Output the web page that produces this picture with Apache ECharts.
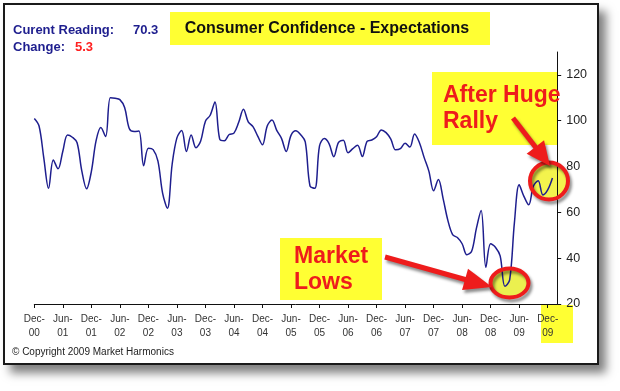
<!DOCTYPE html>
<html>
<head>
<meta charset="utf-8">
<script src="https://cdn.jsdelivr.net/npm/echarts@6/dist/echarts.min.js"></script>
<style>
  html, body { margin: 0; padding: 0; background: #fff; }
  #frame { position: absolute; left: 3px; top: 3px; width: 596px; height: 362px; box-sizing: border-box;
           border: 2px solid #1a1a1a; background: #fff; box-shadow: 7px 8px 9px rgba(0,0,0,0.5); }
  #chart { position: absolute; left: 0; top: 0; width: 620px; height: 391px; }
</style>
</head>
<body>
<div id="frame"></div>
<div id="chart"></div>
<script>
// Monthly Consumer Confidence - Expectations index
const expectations = [
  101, 97.7, 83.7, 70.5, 82.9, 79, 86.7, 93.8, 92.8, 90.4,
  78, 70.3, 77.8, 91.3, 97, 93.1, 110, 109.8, 109.2, 105.8,
  96.5, 95.3, 95.5, 80.4, 88, 87.4, 82.5, 68.3, 61.8, 81,
  92.5, 95.7, 86.6, 93.8, 88.2, 91.2, 99.8, 102.4, 108.2, 92,
  91.3, 94, 94.6, 99.3, 105, 99.5, 97.4, 93.3, 89.5, 97.7,
  100.3, 95.8, 92.3, 86.6, 93.6, 95.6, 94, 90.8, 71.5, 70.5,
  89, 92.2, 90, 84.3, 90.5, 91.5, 86, 87.8, 89.3, 84.4,
  91, 91.6, 93, 96, 94.8, 92, 87.3, 87.8, 90.2, 88.5,
  94.2, 90.5, 84, 78, 69.4, 74.3, 66, 56.5, 50.3, 49,
  46.3, 41.5, 43, 53, 60.8, 36, 46.3, 44.8, 41, 27.7,
  30.5, 55.5, 72, 67, 63.3, 71.5, 73.8, 67.6, 69.8, 75
];
// Tick labels, one every 6 months
const xTickLabels = ['Dec-\n00','Jun-\n01','Dec-\n01','Jun-\n02','Dec-\n02','Jun-\n03','Dec-\n03','Jun-\n04',
  'Dec-\n04','Jun-\n05','Dec-\n05','Jun-\n06','Dec-\n06','Jun-\n07','Dec-\n07','Jun-\n08','Dec-\n08','Jun-\n09','Dec-\n09'];
const yTickValues = [20, 40, 60, 80, 100, 120];
const currentReading = '70.3';
const changeValue = '5.3';

const FONT = 'Arial, "Liberation Sans", sans-serif';
const RED = '#ee1c1c';
const YELLOW = '#ffff33';
const NAVY = '#1e1e8e';
const xTickPositions = xTickLabels.map(function (_, i) { return i * 6; });

function arrow(x1, y1, x2, y2, headLen, headHalf) {
  const dx = x2 - x1, dy = y2 - y1, L = Math.hypot(dx, dy);
  const ux = dx / L, uy = dy / L, px = -uy, py = ux;
  const bx = x2 - ux * headLen, by = y2 - uy * headLen;
  const shadow = { shadowBlur: 3, shadowOffsetX: 2, shadowOffsetY: 3, shadowColor: 'rgba(0,0,0,0.45)' };
  return [
    { type: 'line', z: 6, shape: { x1: x1, y1: y1, x2: bx + ux * 2, y2: by + uy * 2 },
      style: Object.assign({ stroke: RED, lineWidth: 5 }, shadow) },
    { type: 'polygon', z: 6, shape: { points: [[x2, y2], [bx + px * headHalf, by + py * headHalf], [bx - px * headHalf, by - py * headHalf]] },
      style: Object.assign({ fill: RED }, shadow) }
  ];
}

const chart = echarts.init(document.getElementById('chart'), null, { renderer: 'canvas' });
const option = {
  backgroundColor: 'transparent',
  animation: false,
  grid: { left: 34.3, top: 52, width: 522.9, height: 252, containLabel: false },
  xAxis: {
    type: 'value', min: 0, max: 110, interval: 6, z: 3,
    splitLine: { show: false },
    axisLine: { show: true, onZero: false, lineStyle: { color: '#111', width: 1 } },
    axisTick: { show: true, length: 4, customValues: xTickPositions, lineStyle: { color: '#111' } },
    axisLabel: {
      color: '#333', fontSize: 10, fontFamily: FONT, lineHeight: 14, margin: 8,
      customValues: xTickPositions,
      formatter: function (v) { return xTickLabels[Math.round(v / 6)] || ''; }
    }
  },
  yAxis: {
    type: 'value', position: 'right', min: 20, max: 130, interval: 20, z: 3,
    splitLine: { show: false },
    axisLine: { show: true, onZero: false, lineStyle: { color: '#111', width: 1 } },
    axisTick: { show: true, length: 4, customValues: yTickValues, lineStyle: { color: '#111' } },
    axisLabel: {
      color: '#222', fontSize: 12.5, fontFamily: FONT, margin: 9,
      customValues: yTickValues,
      formatter: function (v) { return String(v); }
    }
  },
  series: [{
    type: 'line', z: 3,
    data: expectations.map(function (v, i) { return [i, v]; }),
    showSymbol: false, smooth: 0.35,
    lineStyle: { color: NAVY, width: 1.5 }
  }],
  graphic: [
    // yellow boxes
    { type: 'rect', z: 1, shape: { x: 170, y: 12, width: 320, height: 33 }, style: { fill: YELLOW } },
    { type: 'rect', z: 1, shape: { x: 280, y: 238, width: 102, height: 62 }, style: { fill: YELLOW } },
    { type: 'rect', z: 1, shape: { x: 432, y: 72, width: 125, height: 73 }, style: { fill: YELLOW } },
    { type: 'rect', z: 1, shape: { x: 541, y: 305, width: 32, height: 38 }, style: { fill: YELLOW } },
    // ellipse fills
    { type: 'ellipse', z: 1, shape: { cx: 549, cy: 181, rx: 18, ry: 17 }, style: { fill: '#f2f23a', opacity: 0.9 } },
    { type: 'ellipse', z: 1, shape: { cx: 509.5, cy: 283, rx: 18, ry: 13.5 }, style: { fill: '#e9ee3c', opacity: 0.9 } },
    // texts
    { type: 'text', z: 4, x: 327, y: 29, style: { text: 'Consumer Confidence - Expectations', font: 'bold 16px ' + FONT, fill: '#111', align: 'center', verticalAlign: 'middle' } },
    { type: 'text', z: 4, x: 13, y: 30, style: { text: 'Curent Reading:', font: 'bold 13px ' + FONT, fill: NAVY, verticalAlign: 'middle' } },
    { type: 'text', z: 4, x: 133, y: 30, style: { text: currentReading, font: 'bold 13px ' + FONT, fill: NAVY, verticalAlign: 'middle' } },
    { type: 'text', z: 4, x: 13, y: 47, style: { text: 'Change:', font: 'bold 13px ' + FONT, fill: NAVY, verticalAlign: 'middle' } },
    { type: 'text', z: 4, x: 75, y: 47, style: { text: changeValue, font: 'bold 13px ' + FONT, fill: '#ff2020', verticalAlign: 'middle' } },
    { type: 'text', z: 4, x: 294, y: 257, style: { text: 'Market', font: 'bold 23px ' + FONT, fill: RED, verticalAlign: 'middle' } },
    { type: 'text', z: 4, x: 294, y: 283, style: { text: 'Lows', font: 'bold 23px ' + FONT, fill: RED, verticalAlign: 'middle' } },
    { type: 'text', z: 4, x: 443, y: 96, style: { text: 'After Huge', font: 'bold 23px ' + FONT, fill: RED, verticalAlign: 'middle' } },
    { type: 'text', z: 4, x: 443, y: 122, style: { text: 'Rally', font: 'bold 23px ' + FONT, fill: RED, verticalAlign: 'middle' } },
    { type: 'text', z: 4, x: 12, y: 352, style: { text: '\u00A9 Copyright 2009 Market Harmonics', font: '10px ' + FONT, fill: '#222', verticalAlign: 'middle' } },
    // red circles
    { type: 'ellipse', z: 6, shape: { cx: 549, cy: 181, rx: 19, ry: 18.5 },
      style: { fill: null, stroke: RED, lineWidth: 4, shadowBlur: 3, shadowOffsetX: 2, shadowOffsetY: 3, shadowColor: 'rgba(0,0,0,0.45)' } },
    { type: 'ellipse', z: 6, shape: { cx: 509.5, cy: 283, rx: 19, ry: 14.5 },
      style: { fill: null, stroke: RED, lineWidth: 4, shadowBlur: 3, shadowOffsetX: 2, shadowOffsetY: 3, shadowColor: 'rgba(0,0,0,0.45)' } }
  ].concat(arrow(385, 257, 492, 287, 28, 11)).concat(arrow(513, 118, 550, 166, 24, 11))
};
chart.setOption(option);
</script>
</body>
</html>
